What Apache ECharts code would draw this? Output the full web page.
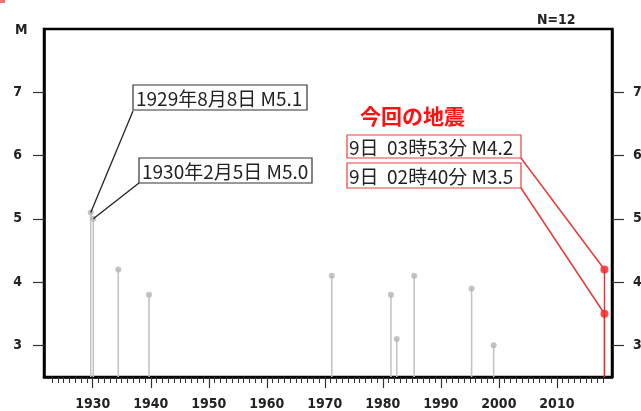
<!DOCTYPE html>
<html><head><meta charset="utf-8">
<script src="https://cdn.jsdelivr.net/npm/echarts@6/dist/echarts.min.js"></script>
<style>html,body{margin:0;padding:0;background:#fff}#c{width:641px;height:411px}</style>
</head><body><div id="c"></div><script>
// ---- data ----
const pastYears = [1929.66, 1930.1, 1934.4, 1939.7, 1971.2, 1981.4, 1982.4, 1985.4, 1995.3, 1999.1];
const pastMags  = [5.1, 5.0, 4.2, 3.8, 4.1, 3.8, 3.1, 4.1, 3.9, 3.0];
const recentYears = [2018.2, 2018.2];
const recentMags  = [4.2, 3.5];
const majorYears = [1930, 1940, 1950, 1960, 1970, 1980, 1990, 2000, 2010];
const magTicks = [3, 4, 5, 6, 7];
const pastLabels = ['1929年8月8日 M5.1', '1930年2月5日 M5.0'];
const recentLabels = ['9日  03時53分 M4.2', '9日  02時40分 M3.5'];
const recentTitle = '今回の地震';
const countLabel = 'N=12';
const yLabel = 'M';

const X_MIN = 1921.6, X_MAX = 2019.5, Y_MIN = 2.5, Y_MAX = 8;
const minorYears = [];
for (let y = 1923; y <= 2018; y++) minorYears.push(y);

const chart = echarts.init(document.getElementById('c'), null, {renderer: 'canvas'});
const axisFont = {fontFamily: 'DejaVu Sans Condensed', fontWeight: 'bold', fontSize: 14, color: '#222'};

function stem(color, width) {
  return function (params, api) {
    const x = api.value(0), y = api.value(1);
    const p0 = api.coord([x, Y_MIN]);
    const p1 = api.coord([x, y]);
    return {type: 'line', shape: {x1: p0[0], y1: p0[1], x2: p1[0], y2: p1[1]},
      style: {stroke: color, lineWidth: width}};
  };
}
const pastData = pastYears.map((y, i) => [y, pastMags[i]]);
const recentData = recentYears.map((y, i) => [y, recentMags[i]]);

chart.setOption({
  animation: false,
  grid: {left: 44, right: 29, top: 29, bottom: 34, outerBoundsMode: 'none', containLabel: false,
    show: true, borderColor: '#000', borderWidth: 2.5, backgroundColor: 'transparent'},
  xAxis: [
    {type: 'value', min: X_MIN, max: X_MAX, position: 'bottom', splitLine: {show: false},
      axisLine: {lineStyle: {color: '#000', width: 2.5}},
      axisTick: {customValues: majorYears, length: 11, lineStyle: {color: '#333', width: 1.2}},
      axisLabel: Object.assign({customValues: majorYears, margin: 20, formatter: v => String(v)}, axisFont)},
    {type: 'value', min: X_MIN, max: X_MAX, position: 'bottom', splitLine: {show: false},
      axisLine: {show: false},
      axisTick: {customValues: minorYears, length: 6, lineStyle: {color: '#333', width: 1}},
      axisLabel: {show: false}}
  ],
  yAxis: [
    {type: 'value', min: Y_MIN, max: Y_MAX, position: 'left', splitLine: {show: false},
      axisLine: {lineStyle: {color: '#000', width: 2.5}},
      axisTick: {customValues: magTicks, length: 11, lineStyle: {color: '#333', width: 1.2}},
      axisLabel: Object.assign({customValues: magTicks, margin: 22}, axisFont)},
    {type: 'value', min: Y_MIN, max: Y_MAX, position: 'right', splitLine: {show: false},
      axisLine: {lineStyle: {color: '#000', width: 2.5}},
      axisTick: {customValues: magTicks, length: 12, lineStyle: {color: '#333', width: 1.2}},
      axisLabel: Object.assign({customValues: magTicks, margin: 21}, axisFont)}
  ],
  series: [
    {type: 'custom', renderItem: stem('#c4c4c4', 1.6), data: pastData, silent: true, z: 2},
    {type: 'scatter', data: pastData, symbolSize: 6, itemStyle: {color: '#b4b4b4'}, z: 3},
    {type: 'custom', renderItem: stem('#f03030', 1.4), data: recentData, silent: true, z: 2},
    {type: 'scatter', data: recentData, symbolSize: 8, itemStyle: {color: '#ff1a1a'}, z: 4}
  ]
});

const P = d => chart.convertToPixel({xAxisIndex: 0, yAxisIndex: 0}, d);
const boxFont = '19px "Noto Sans CJK JP"';
const g = [];
function box(x, y, w, h, stroke, label, tx) {
  g.push({type: 'rect', shape: {x: x, y: y, width: w, height: h}, style: {fill: '#fff', stroke: stroke, lineWidth: 1.2}, z: 10});
  g.push({type: 'text', x: tx, y: y + h / 2 + 1, style: {text: label, font: boxFont, fill: '#222', verticalAlign: 'middle'}, z: 11});
}
function leader(a, b, color, w) {
  g.push({type: 'line', shape: {x1: a[0], y1: a[1], x2: b[0], y2: b[1]}, style: {stroke: color, lineWidth: w}, z: 9});
}
// past annotations
leader([133, 111], P(pastData[0]), '#222', 1.3);
leader([139, 183], P(pastData[1]), '#222', 1.3);
box(133, 85, 174, 25, '#333', pastLabels[0], 136);
box(139, 158, 173, 25, '#333', pastLabels[1], 142);
// recent annotations
leader([521, 158], P(recentData[0]), '#e83838', 1.5);
leader([521, 188], P(recentData[1]), '#e83838', 1.5);
box(347, 135, 174, 23, '#e84040', recentLabels[0], 349);
box(347, 163, 174, 25, '#e84040', recentLabels[1], 349);
g.push({type: 'text', x: 360, y: 116, style: {text: recentTitle, font: 'bold 21px "Noto Sans CJK JP"', fill: '#ff1010', verticalAlign: 'middle'}, z: 11});
g.push({type: 'text', x: 537, y: 20, style: {text: countLabel, font: 'bold 14px "DejaVu Sans Condensed"', fill: '#222', verticalAlign: 'middle'}, z: 11});
g.push({type: 'text', x: 15, y: 30, style: {text: yLabel, font: 'bold 14px "DejaVu Sans Condensed"', fill: '#222', verticalAlign: 'middle'}, z: 11});
g.push({type: 'rect', shape: {x: 0, y: 0, width: 5, height: 3}, style: {fill: '#f07070'}, z: 11});
chart.setOption({graphic: g});
</script></body></html>
